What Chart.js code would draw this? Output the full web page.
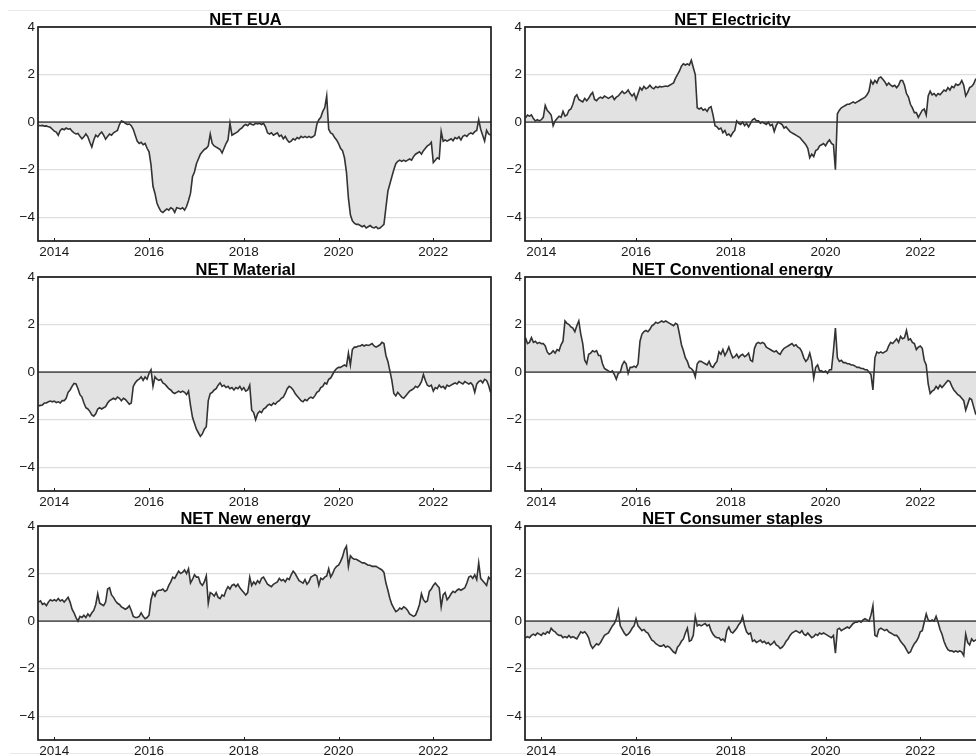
<!DOCTYPE html>
<html>
<head>
<meta charset="utf-8">
<script src="https://cdn.jsdelivr.net/npm/chart.js@4.4.1/dist/chart.umd.min.js"></script>
<style>
  html, body { margin: 0; padding: 0; background: #fff; overflow: hidden; width: 976px; height: 756px; }
  .panel { position: absolute; width: 495px; height: 262px; }
  .rule { position: absolute; height: 1px; background: #e9e9e9; }
</style>
</head>
<body>
<div class="rule" style="left:8px; top:10px; width:968px;"></div>
<div class="rule" style="left:10px; top:753px; width:966px;"></div>
<div class="panel" style="left:0; top:0;"><canvas id="p0" width="495" height="262"></canvas></div>
<div class="panel" style="left:487px; top:0;"><canvas id="p1" width="495" height="262"></canvas></div>
<div class="panel" style="left:0; top:250px;"><canvas id="p2" width="495" height="262"></canvas></div>
<div class="panel" style="left:487px; top:250px;"><canvas id="p3" width="495" height="262"></canvas></div>
<div class="panel" style="left:0; top:499px;"><canvas id="p4" width="495" height="262"></canvas></div>
<div class="panel" style="left:487px; top:499px;"><canvas id="p5" width="495" height="262"></canvas></div>
<script>
// Semi-monthly observations, starting September 2013
const startYear = 2013 + 8 / 12;
const stepYears = 1 / 24;
const xMin = 2013.656, xMax = 2023.218;
const xTicks = [2014, 2016, 2018, 2020, 2022];
const yTicks = [-4, -2, 0, 2, 4];

const titles = ['NET EUA', 'NET Electricity', 'NET Material', 'NET Conventional energy', 'NET New energy', 'NET Consumer staples'];

const netEUA = [
  -0.14,-0.15,-0.14,-0.17,-0.16,-0.2,-0.22,-0.3,-0.38,-0.42,-0.55,-0.35,-0.28,-0.32,-0.25,-0.3,-0.28,-0.38,-0.45,-0.5,-0.48,-0.6,-0.7,-0.62,
  -0.5,-0.62,-0.85,-1.05,-0.75,-0.55,-0.62,-0.5,-0.42,-0.55,-0.72,-0.6,-0.5,-0.55,-0.45,-0.4,-0.35,-0.1,0.05,0.02,-0.05,-0.1,-0.08,-0.15,
  -0.3,-0.55,-0.8,-0.9,-0.85,-0.95,-0.9,-1.1,-1.25,-1.8,-2.7,-3.0,-3.4,-3.6,-3.75,-3.8,-3.72,-3.65,-3.7,-3.6,-3.65,-3.8,-3.6,-3.62,
  -3.65,-3.6,-3.7,-3.55,-3.3,-3.0,-2.3,-2.1,-1.75,-1.55,-1.35,-1.25,-1.15,-1.1,-1.0,-0.5,-0.9,-1.0,-1.05,-1.1,-1.15,-1.3,-1.1,-0.9,
  -0.75,-0.05,-0.55,-0.5,-0.45,-0.4,-0.3,-0.25,-0.15,-0.1,-0.15,-0.05,-0.1,-0.12,-0.05,-0.08,-0.05,-0.1,-0.05,-0.2,-0.45,-0.5,-0.45,-0.55,
  -0.5,-0.45,-0.6,-0.55,-0.7,-0.6,-0.75,-0.85,-0.8,-0.7,-0.75,-0.65,-0.7,-0.6,-0.65,-0.6,-0.65,-0.6,-0.65,-0.62,-0.55,-0.1,0.1,0.2,
  0.45,0.6,1.1,-0.3,-0.45,-0.5,-0.65,-0.75,-0.9,-1.1,-1.2,-1.5,-2.1,-3.2,-3.9,-4.15,-4.25,-4.3,-4.3,-4.35,-4.4,-4.35,-4.45,-4.4,
  -4.35,-4.42,-4.45,-4.4,-4.48,-4.45,-4.38,-4.3,-3.6,-2.9,-2.6,-2.3,-2.0,-1.75,-1.65,-1.6,-1.65,-1.6,-1.65,-1.6,-1.55,-1.6,-1.45,-1.35,
  -1.3,-1.25,-1.35,-1.2,-1.1,-1.0,-0.95,-0.85,-1.7,-1.6,-1.5,-1.55,-0.4,-0.8,-0.75,-0.8,-0.75,-0.7,-0.78,-0.65,-0.7,-0.62,-0.75,-0.6,
  -0.55,-0.6,-0.5,-0.45,-0.5,-0.4,-0.35,0.1,-0.3,-0.55,-0.8,-0.35,-0.5,-0.55
];

const netElectricity = [
  0.18,0.3,0.25,0.3,0.15,0.05,0.1,0.05,0.1,0.2,0.7,0.5,0.4,0.3,-0.15,0.05,0.15,0.25,0.2,0.45,0.25,0.3,0.5,0.55,
  0.75,1.05,1.15,0.95,0.9,0.85,1.0,0.9,1.0,1.15,1.25,0.95,0.9,1.0,1.05,1.0,1.1,1.05,1.0,1.05,1.1,0.95,1.05,1.1,
  1.2,1.3,1.2,1.25,1.35,1.2,1.1,1.2,0.95,1.2,1.45,1.35,1.5,1.4,1.45,1.55,1.45,1.4,1.5,1.45,1.5,1.48,1.5,1.52,
  1.5,1.55,1.6,1.65,1.85,2.0,2.15,2.35,2.45,2.4,2.45,2.4,2.6,2.3,2.0,0.6,0.55,0.6,0.5,0.55,0.45,0.6,0.65,0.3,
  -0.15,-0.2,-0.3,-0.25,-0.45,-0.35,-0.55,-0.5,-0.6,-0.45,-0.35,0.05,-0.05,-0.1,0.0,-0.15,-0.05,-0.2,-0.05,0.1,0.15,0.05,0.05,-0.05,
  0.0,-0.05,-0.1,0.0,-0.15,-0.1,-0.4,-0.15,0.0,-0.05,-0.1,-0.25,-0.2,-0.3,-0.4,-0.45,-0.5,-0.55,-0.6,-0.65,-0.75,-0.85,-0.95,-1.1,
  -1.5,-1.35,-1.45,-1.2,-1.15,-1.0,-0.95,-0.9,-1.0,-0.85,-0.75,-0.9,-0.95,-2.0,0.35,0.5,0.6,0.65,0.7,0.75,0.75,0.8,0.85,0.8,
  0.85,0.9,0.95,1.0,1.05,1.15,1.3,1.75,1.6,1.75,1.65,1.85,1.9,1.8,1.7,1.55,1.65,1.55,1.5,1.55,1.45,1.55,1.75,1.75,
  1.55,1.2,1.05,0.75,0.6,0.4,0.4,0.2,0.35,0.5,0.55,0.3,1.1,1.3,1.15,1.2,1.1,1.2,1.15,1.25,1.35,1.3,1.45,1.35,
  1.5,1.45,1.6,1.55,1.6,1.75,1.55,1.1,1.25,1.45,1.5,1.6,1.8,1.85
];

const netMaterial = [
  -1.42,-1.4,-1.38,-1.3,-1.3,-1.25,-1.22,-1.25,-1.22,-1.28,-1.25,-1.3,-1.2,-1.2,-1.1,-0.85,-0.75,-0.6,-0.48,-0.5,-0.7,-0.95,-1.05,-1.3,
  -1.5,-1.55,-1.65,-1.8,-1.85,-1.75,-1.55,-1.5,-1.55,-1.5,-1.45,-1.3,-1.2,-1.15,-1.1,-1.15,-1.05,-1.1,-1.2,-1.1,-1.15,-1.25,-1.35,-1.3,
  -0.6,-0.45,-0.35,-0.3,-0.2,-0.35,-0.2,-0.3,-0.05,0.1,-0.6,-0.2,-0.3,-0.35,-0.3,-0.45,-0.5,-0.6,-0.7,-0.75,-0.85,-0.9,-0.85,-0.8,
  -0.85,-0.8,-0.85,-0.95,-0.8,-1.4,-1.9,-2.15,-2.4,-2.55,-2.7,-2.6,-2.4,-2.3,-1.2,-0.9,-0.85,-0.75,-0.7,-0.55,-0.45,-0.6,-0.55,-0.65,
  -0.6,-0.7,-0.65,-0.75,-0.65,-0.7,-0.6,-0.75,-0.65,-0.8,-0.75,-0.55,-1.6,-1.7,-2.0,-1.75,-1.65,-1.7,-1.55,-1.5,-1.4,-1.35,-1.4,-1.3,
  -1.35,-1.25,-1.2,-1.1,-1.05,-0.9,-0.7,-0.6,-0.65,-0.75,-0.9,-1.0,-1.1,-1.2,-1.25,-1.15,-1.2,-1.1,-1.05,-1.1,-1.0,-0.85,-0.8,-0.65,
  -0.6,-0.45,-0.5,-0.3,-0.25,-0.1,0.05,0.15,0.2,0.2,0.25,0.3,0.25,0.8,0.3,0.95,1.05,1.05,1.1,1.1,1.15,1.1,1.15,1.12,
  1.15,1.2,1.1,1.05,1.1,1.15,1.25,1.2,0.7,0.45,0.05,-0.35,-0.9,-1.0,-0.85,-0.95,-1.05,-1.1,-1.0,-0.9,-0.8,-0.75,-0.7,-0.6,
  -0.65,-0.55,-0.4,-0.1,-0.35,-0.55,-0.6,-0.55,-0.8,-0.65,-0.7,-0.55,-0.65,-0.6,-0.7,-0.55,-0.6,-0.55,-0.5,-0.45,-0.5,-0.4,-0.45,-0.5,
  -0.4,-0.45,-0.5,-0.45,-0.55,-0.85,-0.5,-0.4,-0.35,-0.45,-0.3,-0.35,-0.55,-0.85
];

const netConventional = [
  1.45,1.2,1.25,1.45,1.25,1.3,1.2,1.25,1.2,1.2,1.1,0.85,0.75,0.8,0.9,0.8,0.95,0.9,1.15,1.3,2.15,2.05,2.0,1.9,
  1.85,1.7,1.95,2.15,1.6,1.2,0.5,0.35,0.75,0.8,0.9,0.85,0.9,0.7,0.7,0.35,0.15,0.1,0.05,0.0,0.05,-0.1,-0.3,-0.05,
  0.0,0.3,0.45,0.35,-0.05,0.2,0.2,0.25,0.2,0.35,1.3,1.6,1.7,1.75,1.7,1.8,1.95,2.0,2.1,2.05,2.1,2.15,2.1,2.15,
  2.1,2.05,2.0,1.95,2.05,2.0,1.6,1.15,0.9,0.6,0.45,0.2,0.15,0.05,-0.2,0.35,0.45,0.45,0.4,0.35,0.3,0.45,0.25,0.2,
  0.35,0.45,0.85,0.75,0.95,0.7,0.85,1.05,0.8,0.6,0.65,0.75,0.6,0.7,0.75,0.65,0.7,0.8,0.5,0.45,1.0,1.2,1.25,1.2,
  1.25,1.2,1.05,1.0,0.95,0.9,0.85,0.9,0.8,0.75,0.9,1.0,1.05,1.1,1.15,1.2,1.1,1.15,1.05,1.0,0.85,0.6,0.45,0.55,
  0.8,0.45,-0.25,0.2,0.3,0.05,0.05,0.0,0.05,-0.05,0.1,0.1,0.9,1.85,0.6,0.45,0.5,0.4,0.4,0.35,0.35,0.3,0.3,0.25,
  0.2,0.2,0.15,0.15,0.1,0.1,0.0,-0.1,-0.75,0.6,0.85,0.8,0.85,0.8,0.85,0.9,1.1,1.25,1.2,1.3,1.4,1.25,1.5,1.4,
  1.45,1.75,1.35,1.4,1.25,1.2,0.95,1.05,1.1,1.0,0.5,0.3,-0.5,-0.9,-0.8,-0.75,-0.6,-0.7,-0.55,-0.65,-0.55,-0.45,-0.35,-0.4,
  -0.6,-0.75,-0.85,-0.95,-1.0,-1.1,-1.2,-1.6,-1.35,-1.1,-1.15,-1.45,-1.75,-1.85
];

const netNewEnergy = [
  0.8,0.85,0.7,0.75,0.65,0.8,0.9,0.85,0.9,0.85,0.95,0.85,0.9,0.8,0.9,1.0,0.8,0.5,0.35,0.15,0.0,0.2,0.15,0.25,
  0.15,0.3,0.2,0.35,0.45,0.7,1.15,0.75,0.7,0.65,0.8,1.35,1.4,1.1,1.0,0.85,0.75,0.7,0.6,0.55,0.5,0.55,0.65,0.45,
  0.2,0.15,0.15,0.2,0.35,0.2,0.1,0.15,0.25,0.9,1.2,1.05,1.25,1.3,1.3,1.35,1.25,1.3,1.5,1.65,1.85,1.8,1.95,2.1,
  2.0,2.05,2.15,2.0,2.2,1.6,1.75,1.95,1.85,1.85,1.6,1.5,1.65,1.9,0.75,1.2,1.15,1.05,1.2,1.0,0.95,1.1,1.05,1.3,
  1.45,1.35,1.5,1.55,1.45,1.55,1.4,1.3,1.2,1.1,1.2,1.85,1.5,1.65,1.55,1.7,1.6,1.8,1.85,1.7,1.55,1.5,1.45,1.55,
  1.6,1.65,1.8,1.7,1.75,1.65,1.8,1.75,1.95,2.1,2.0,1.85,1.7,1.65,1.6,1.75,1.55,1.65,1.85,1.9,1.95,1.9,1.5,1.8,
  1.75,1.85,1.9,2.2,1.85,2.0,2.2,2.3,2.35,2.5,2.7,3.0,3.15,2.3,2.75,2.65,2.6,2.6,2.55,2.5,2.45,2.45,2.4,2.35,
  2.35,2.3,2.3,2.3,2.25,2.2,2.15,2.05,1.6,1.3,0.95,0.7,0.55,0.4,0.45,0.55,0.5,0.6,0.55,0.45,0.3,0.25,0.2,0.25,
  0.45,0.7,1.15,0.9,0.8,0.85,1.25,1.35,1.5,1.6,1.5,1.4,0.6,1.1,1.2,0.9,1.0,1.15,1.25,1.2,1.3,1.35,1.3,1.35,
  1.4,1.6,1.85,1.9,1.8,1.95,1.75,2.45,1.8,1.7,1.6,1.5,1.85,1.75
];

const netConsumerStaples = [
  -0.7,-0.65,-0.7,-0.6,-0.55,-0.6,-0.5,-0.55,-0.6,-0.5,-0.55,-0.45,-0.5,-0.3,-0.4,-0.45,-0.55,-0.6,-0.6,-0.7,-0.65,-0.7,-0.6,-0.7,
  -0.65,-0.7,-0.75,-0.6,-0.45,-0.5,-0.45,-0.55,-0.7,-1.0,-1.15,-1.05,-0.95,-1.0,-0.9,-0.75,-0.6,-0.55,-0.5,-0.35,-0.2,-0.1,0.1,0.45,
  -0.2,-0.35,-0.5,-0.6,-0.55,-0.45,-0.3,-0.2,0.1,-0.2,-0.3,-0.4,-0.35,-0.45,-0.5,-0.65,-0.8,-0.85,-0.95,-1.0,-1.05,-1.05,-1.0,-1.1,
  -1.05,-1.1,-1.2,-1.3,-1.35,-1.1,-1.0,-0.85,-0.75,-0.5,-0.3,-0.85,-0.8,-0.6,0.2,-0.2,-0.15,-0.2,-0.15,-0.1,-0.2,-0.15,-0.4,-0.55,
  -0.65,-0.7,-0.7,-0.8,-0.75,-0.85,-0.4,-0.25,-0.45,-0.5,-0.4,-0.3,-0.15,-0.05,0.2,-0.2,-0.45,-0.55,-0.5,-0.85,-0.8,-0.9,-0.85,-0.8,
  -0.9,-0.85,-0.95,-0.9,-1.0,-0.95,-0.85,-1.0,-1.05,-1.15,-1.1,-1.0,-0.85,-0.75,-0.6,-0.5,-0.45,-0.4,-0.45,-0.5,-0.4,-0.55,-0.6,-0.5,
  -0.6,-0.7,-0.65,-0.55,-0.6,-0.5,-0.55,-0.5,-0.55,-0.6,-0.65,-0.7,-0.6,-1.35,-0.35,-0.3,-0.4,-0.35,-0.3,-0.25,-0.3,-0.2,-0.1,-0.05,
  -0.05,0.0,-0.05,0.05,0.1,0.05,0.0,0.25,0.65,-0.6,-0.65,-0.35,-0.3,-0.35,-0.4,-0.35,-0.45,-0.5,-0.55,-0.6,-0.6,-0.7,-0.85,-0.95,
  -1.05,-1.2,-1.35,-1.3,-1.1,-0.95,-0.85,-0.7,-0.45,-0.4,-0.05,0.3,0.05,0.0,0.05,0.0,0.2,-0.05,-0.35,-0.55,-0.85,-1.05,-1.2,-1.25,
  -1.25,-1.3,-1.25,-1.3,-1.25,-1.3,-1.45,-0.55,-0.9,-1.0,-0.75,-0.85,-0.8,-0.75
];

const seriesList = [netEUA, netElectricity, netMaterial, netConventional, netNewEnergy, netConsumerStaples];

const FONT = '"Liberation Sans", Arial, Helvetica, sans-serif';

// Zero reference line (over the fill, under the series), black plot frame
// and short inward year ticks on the bottom edge
const framePlugin = {
  id: 'panelFrame',
  beforeDatasetsDraw(chart) {
    const { ctx, chartArea: a, scales: { y } } = chart;
    const z = y.getPixelForValue(0);
    ctx.save();
    ctx.strokeStyle = '#5c5c5c';
    ctx.lineWidth = 1.6;
    ctx.beginPath();
    ctx.moveTo(a.left, z);
    ctx.lineTo(a.right, z);
    ctx.stroke();
    ctx.restore();
  },
  afterDatasetsDraw(chart) {
    const { ctx, chartArea: a, scales: { x } } = chart;
    ctx.save();
    ctx.strokeStyle = '#1c1c1c';
    ctx.lineWidth = 1.7;
    ctx.strokeRect(a.left, a.top, a.right - a.left, a.bottom - a.top);
    ctx.lineWidth = 1;
    ctx.beginPath();
    xTicks.forEach(v => {
      const px = Math.round(x.getPixelForValue(v)) + 0.5;
      ctx.moveTo(px, a.bottom);
      ctx.lineTo(px, a.bottom - 3);
    });
    ctx.stroke();
    ctx.restore();
  }
};

function minusLabel(v) {
  return v < 0 ? '\u2212' + Math.abs(v) : String(v);
}

function makePanel(canvasId, title, values) {
  const points = values.map((v, i) => ({ x: startYear + i * stepYears, y: v }));
  return new Chart(document.getElementById(canvasId), {
    type: 'line',
    data: {
      datasets: [{
        data: points,
        borderColor: '#333333',
        borderWidth: 1.6,
        backgroundColor: '#e2e2e2',
        fill: { value: 0 },
        pointRadius: 0,
        tension: 0
      }]
    },
    options: {
      responsive: false,
      animation: false,
      events: [],
      layout: { padding: { left: 0, right: 4, top: 0, bottom: 0 } },
      plugins: {
        legend: { display: false },
        tooltip: { enabled: false },
        filler: { drawTime: 'beforeDatasetsDraw' },
        title: {
          display: true,
          text: title,
          color: '#000',
          font: { family: FONT, size: 16.5, weight: 'bold', lineHeight: 1 },
          padding: { top: 12, bottom: -1.5 }
        }
      },
      scales: {
        x: {
          type: 'linear',
          min: xMin,
          max: xMax,
          grid: { display: false, drawTicks: false, tickLength: 0 },
          border: { display: false },
          afterBuildTicks: s => { s.ticks = xTicks.map(v => ({ value: v })); },
          afterFit: s => { s.height = 21; },
          ticks: {
            padding: 3,
            color: '#1a1a1a',
            autoSkip: false,
            maxRotation: 0,
            font: { family: FONT, size: 13.5 },
            callback: v => String(v)
          }
        },
        y: {
          min: -5,
          max: 4,
          grid: { color: '#dedede', lineWidth: 1.3, drawTicks: false, tickLength: 0 },
          border: { display: false },
          afterBuildTicks: s => { s.ticks = yTicks.map(v => ({ value: v })); },
          afterFit: s => { s.width = 38; },
          ticks: {
            padding: 3,
            color: '#1a1a1a',
            font: { family: FONT, size: 13.5 },
            callback: v => minusLabel(v)
          }
        }
      }
    },
    plugins: [framePlugin]
  });
}

seriesList.forEach((vals, k) => makePanel('p' + k, titles[k], vals));
</script>
</body>
</html>
